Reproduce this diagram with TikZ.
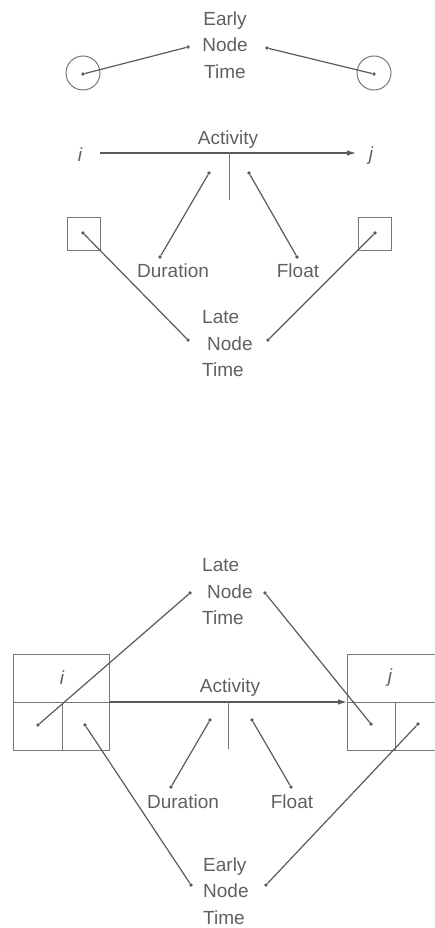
\documentclass[tikz,border=0pt]{standalone}
\usepackage{fontspec}
\setmainfont{Liberation Sans}
\usetikzlibrary{arrows.meta}
\definecolor{ink}{HTML}{5A5A5A}
\definecolor{txt}{HTML}{606060}
\definecolor{frame}{HTML}{777777}
\begin{document}
\begin{tikzpicture}[x=1pt,y=-1pt,
  conn/.style={draw=ink,line width=1.2pt},
  boxline/.style={draw=frame,line width=1pt},
  dot/.style={circle,fill=ink,inner sep=0pt,minimum size=3.6pt},
  lbl/.style={text=txt,font=\fontsize{19}{26.5}\selectfont,inner sep=0pt},
  ring/.style={circle,draw=frame,line width=1pt,minimum size=34pt,inner sep=0pt},
  sq/.style={rectangle,draw=frame,line width=1pt,minimum size=33pt,inner sep=0pt},
  arr/.style={draw=ink,line width=1.2pt,-{Latex[length=9pt,width=5.5pt]}}]
\useasboundingbox (0,0) rectangle (435,928);

% ---------- top diagram ----------
\node[lbl,align=center] (ent) at (225,45) {Early\\Node\\Time};
\node[dot] (entL) at (188,47) {};
\node[dot] (entR) at (267,48) {};
\node[ring] (cL) at (83,73) {};
\node[dot] (cLd) at (83,74) {};
\node[ring] (cR) at (374,73) {};
\node[dot] (cRd) at (374,74) {};
\draw[conn] (cLd) -- (entL);
\draw[conn] (cRd) -- (entR);

\node[lbl,font=\fontsize{19}{26.5}\selectfont\itshape] (ti) at (80,155) {i};
\node[lbl,font=\fontsize{19}{26.5}\selectfont\itshape] (tj) at (371,156) {j};
\coordinate (ta0) at (100,153);
\coordinate (ta1) at (356,153);
\draw[arr] (ta0) -- (ta1);
\node[lbl] (tact) at (228,140) {Activity};
\coordinate (tt0) at (229,153);
\coordinate (tt1) at (229,200);
\draw[boxline] (tt0) -- (tt1);
\node[dot] (tdA) at (209,173) {};
\node[dot] (tfA) at (249,173) {};
\node[dot] (tdB) at (160,257) {};
\node[dot] (tfB) at (297,257) {};
\node[lbl] (tdur) at (173,271) {Duration};
\node[lbl] (tflo) at (298,271) {Float};
\draw[conn] (tdA) -- (tdB);
\draw[conn] (tfA) -- (tfB);

\node[sq] (sqL) at (83.5,233.5) {};
\node[dot] (sqLd) at (83,233) {};
\node[sq] (sqR) at (374.5,233.5) {};
\node[dot] (sqRd) at (375,233) {};
\node[lbl,align=left,anchor=west] (lnt) at (202,344) {Late\\\hspace{5pt}Node\\Time};
\node[dot] (lntL) at (188,340) {};
\node[dot] (lntR) at (268,340) {};
\draw[conn] (sqLd) -- (lntL);
\draw[conn] (sqRd) -- (lntR);

% ---------- bottom diagram ----------
\node[lbl,align=left,anchor=west] (blnt) at (202,592) {Late\\\hspace{5pt}Node\\Time};
\node[dot] (blntL) at (190,593) {};
\node[dot] (blntR) at (265,593) {};

% left node box
\node[boxline,rectangle,minimum width=96pt,minimum height=96pt,inner sep=0pt] (lbox) at (61,702) {};
\coordinate (lm0) at (13,702);
\coordinate (lm1) at (109,702);
\coordinate (lv0) at (62,702);
\coordinate (lv1) at (62,750);
\draw[boxline] (lm0) -- (lm1);
\draw[boxline] (lv0) -- (lv1);
\node[lbl,font=\fontsize{19}{26.5}\selectfont\itshape] (bi) at (62,678) {i};

% right node box (cut by the picture's edge)
\coordinate (rb1) at (435,654);
\coordinate (rb2) at (347,654);
\coordinate (rb3) at (347,750);
\coordinate (rb4) at (435,750);
\coordinate (rb5) at (347,702);
\coordinate (rb6) at (435,702);
\coordinate (rb7) at (395,702);
\coordinate (rb8) at (395,750);
\draw[boxline] (rb1) -- (rb2) -- (rb3) -- (rb4);
\draw[boxline] (rb5) -- (rb6);
\draw[boxline] (rb7) -- (rb8);
\node[lbl,font=\fontsize{19}{26.5}\selectfont\itshape] (bj) at (390,678) {j};

\draw[arr] (lm1) -- (rb5);
\node[lbl] (bact) at (230,688) {Activity};
\coordinate (bt0) at (228,702);
\coordinate (bt1) at (228,749);
\draw[boxline] (bt0) -- (bt1);

\node[dot] (lbAd) at (38,725) {};
\node[dot] (lbBd) at (85,725) {};
\node[dot] (rbAd) at (371,724) {};
\node[dot] (rbBd) at (418,724) {};

\node[dot] (bdA) at (210,720) {};
\node[dot] (bfA) at (252,720) {};
\node[dot] (bdB) at (171,787) {};
\node[dot] (bfB) at (291,787) {};
\node[lbl] (bdur) at (183,802) {Duration};
\node[lbl] (bflo) at (292,802) {Float};
\draw[conn] (bdA) -- (bdB);
\draw[conn] (bfA) -- (bfB);

\node[lbl,align=left,anchor=west] (bent) at (203,891) {Early\\Node\\Time};
\node[dot] (bentL) at (191,885) {};
\node[dot] (bentR) at (266,885) {};

\draw[conn] (lbAd) -- (blntL);
\draw[conn] (rbAd) -- (blntR);
\draw[conn] (lbBd) -- (bentL);
\draw[conn] (rbBd) -- (bentR);
\end{tikzpicture}
\end{document}
